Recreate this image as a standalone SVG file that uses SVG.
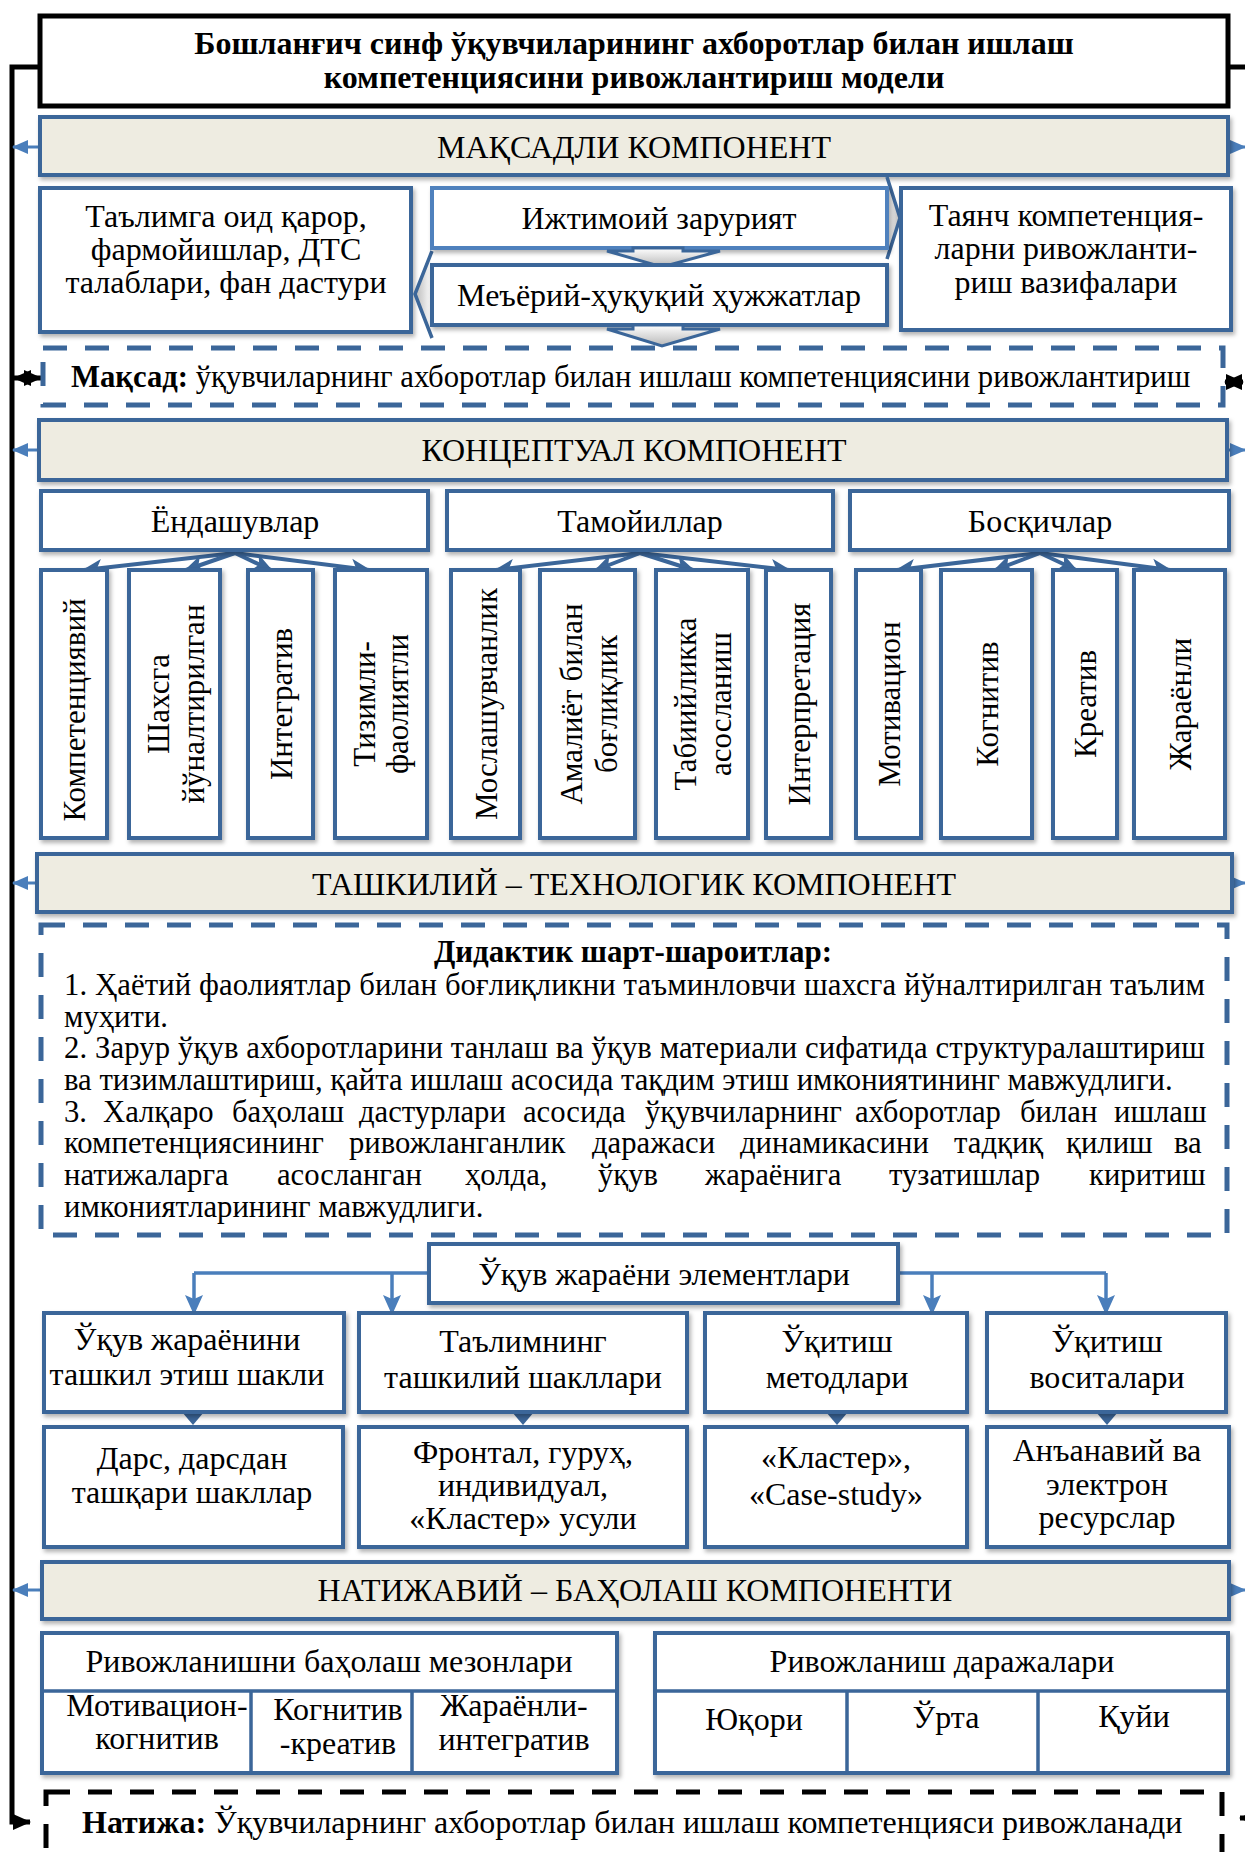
<svg xmlns="http://www.w3.org/2000/svg" width="1245" height="1852" viewBox="0 0 1245 1852">
<defs>
<style>
text{font-family:"Liberation Serif","Times New Roman",serif;font-size:32px;fill:#000}
.p{font-size:30.7px}
.h{font-size:31px}
.c{text-anchor:middle}
.b{font-weight:bold}
.box{fill:#fff;stroke:#3B6699;stroke-width:4}
.lbox{fill:#fff;stroke:#4F81BD;stroke-width:4}
.band{fill:#EEECE1;stroke:#3B6699;stroke-width:4}
.dash{fill:none;stroke:#3B6699;stroke-width:5;stroke-dasharray:24 18}
.kdash{fill:none;stroke:#000;stroke-width:5;stroke-dasharray:24 18}
.bl{fill:none;stroke:#000;stroke-width:5}
.ca{fill:none;stroke:#3B6699;stroke-width:4;marker-end:url(#ah)}
.la{fill:none;stroke:#4A7EBB;stroke-width:3.5}
.la2{fill:none;stroke:#4A7EBB;stroke-width:3.5;marker-end:url(#lh)}
.ba{fill:none;stroke:#4A7EBB;stroke-width:3;marker-end:url(#bh)}
.tri{fill:#3B6699}
.chev{fill:url(#gr);stroke:#3B6699;stroke-width:3}
.cl{fill:none;stroke:#3B6699;stroke-width:3.5}
</style>
<filter id="sh" x="-20%" y="-20%" width="140%" height="150%"><feDropShadow dx="2" dy="3" stdDeviation="2" flood-color="#000" flood-opacity="0.3"/></filter>
<linearGradient id="gr" x1="0" y1="0" x2="0" y2="1"><stop offset="0" stop-color="#ffffff"/><stop offset="1" stop-color="#b8b8b8"/></linearGradient>
<linearGradient id="grh" x1="1" y1="0" x2="0" y2="0"><stop offset="0" stop-color="#ffffff"/><stop offset="1" stop-color="#b8b8b8"/></linearGradient>
<linearGradient id="grr" x1="0" y1="0" x2="1" y2="0"><stop offset="0" stop-color="#ffffff"/><stop offset="1" stop-color="#b8b8b8"/></linearGradient>
<marker id="ah" markerUnits="userSpaceOnUse" viewBox="0 0 20 20" markerWidth="20" markerHeight="20" refX="18" refY="10" orient="auto"><path d="M0,1 L20,10 L0,19 L5,10 Z" fill="#3B6699"/></marker>
<marker id="lh" markerUnits="userSpaceOnUse" viewBox="0 0 20 20" markerWidth="20" markerHeight="20" refX="18" refY="10" orient="auto"><path d="M0,1 L20,10 L0,19 L4,10 Z" fill="#4A7EBB"/></marker>
<marker id="bh" markerUnits="userSpaceOnUse" viewBox="0 0 16 16" markerWidth="16" markerHeight="16" refX="15" refY="8" orient="auto"><path d="M0,1 L16,8 L0,15 Z" fill="#4A7EBB"/></marker>
<marker id="kh" markerUnits="userSpaceOnUse" viewBox="0 0 18 18" markerWidth="18" markerHeight="18" refX="17" refY="9" orient="auto-start-reverse"><path d="M0,1 L18,9 L0,17 Z" fill="#000"/></marker>
</defs>

<!-- connectors -->
<g id="connectors">
  <path class="bl" d="M40,67 H12 V1822 H30" marker-end="url(#kh)"/>
  <path class="bl" d="M1228,67 H1245"/>
  <path class="bl" d="M1245,1818 H1240" marker-end="url(#kh)"/>
  <path d="M14,378 H41" class="bl" stroke-width="4" marker-start="url(#kh)" marker-end="url(#kh)"/>
  <path d="M1225,382 H1243" class="bl" stroke-width="4" marker-start="url(#kh)" marker-end="url(#kh)"/>
  <path class="ba" d="M40,147 H13"/>
  <path class="ba" d="M1228,147 H1245"/>
  <path class="ba" d="M39,450 H13"/>
  <path class="ba" d="M1227,450 H1245"/>
  <path class="ba" d="M37,883 H13"/>
  <path class="ba" d="M1232,883 H1245"/>
  <path class="ba" d="M42,1590 H13"/>
  <path class="ba" d="M1229,1590 H1245"/>
  <!-- concept arrows -->
  <path class="ca" d="M235,553 L84,570"/>
  <path class="ca" d="M235,553 L186,570"/>
  <path class="ca" d="M235,553 L271,570"/>
  <path class="ca" d="M235,553 L369,570"/>
  <path class="ca" d="M640,553 L496,570"/>
  <path class="ca" d="M640,553 L596,570"/>
  <path class="ca" d="M640,553 L693,570"/>
  <path class="ca" d="M640,553 L789,570"/>
  <path class="ca" d="M1040,553 L897,570"/>
  <path class="ca" d="M1040,553 L995,570"/>
  <path class="ca" d="M1040,553 L1076,570"/>
  <path class="ca" d="M1040,553 L1170,570"/>
  <!-- process elements -->
  <path class="la" d="M429,1273 H194"/>
  <path class="la2" d="M194,1273 V1313"/>
  <path class="la2" d="M392,1273 V1313"/>
  <path class="la" d="M898,1273 H1106"/>
  <path class="la2" d="M1106,1273 V1313"/>
  <path class="la2" d="M932,1273 V1313"/>
  <polygon class="tri" points="182,1412 204,1412 193,1425"/>
  <polygon class="tri" points="512,1412 534,1412 523,1425"/>
  <polygon class="tri" points="826,1412 848,1412 837,1425"/>
  <polygon class="tri" points="1096,1412 1118,1412 1107,1425"/>
</g>

<g id="title">
  <rect x="40" y="16" width="1188" height="90" fill="#fff" stroke="#000" stroke-width="5"/>
  <text class="c b" x="634" y="54">Бошланғич синф ўқувчиларининг ахборотлар билан ишлаш</text>
  <text class="c b" x="634" y="88">компетенциясини ривожлантириш модели</text>
</g>

<g id="band-maqsadli">
  <rect class="band" x="40" y="117" width="1188" height="58" filter="url(#sh)"/>
  <text class="c" x="634" y="158">МАҚСАДЛИ КОМПОНЕНТ</text>
</g>

<g id="node-talimga">
  <rect class="box" x="40" y="188" width="371" height="144" filter="url(#sh)"/>
  <text class="c" x="226" y="227">Таълимга оид қарор,</text>
  <text class="c" x="226" y="260">фармойишлар, ДТС</text>
  <text class="c" x="226" y="293">талаблари, фан дастури</text>
</g>

<g id="arrows-center">
  <polygon points="432,251 415,294 432,338" fill="url(#grh)"/>
  <polyline class="cl" points="432,251 415,294 432,338"/>
  <polygon points="887,177 900,218 887,259" fill="url(#grr)"/>
  <polyline class="cl" points="887,177 900,218 887,259"/>
</g>

<g id="node-ijtimoiy">
  <rect class="lbox" x="432" y="188" width="455" height="60" filter="url(#sh)"/>
  <text class="c" x="659" y="229">Ижтимоий зарурият</text>
</g>
<polygon class="chev" points="633,248 683,248 683,251 720,251 662,267 607,251 633,251"/>

<g id="node-meyoriy">
  <rect class="box" x="432" y="265" width="455" height="60" filter="url(#sh)"/>
  <text class="c" x="659" y="306">Меъёрий-ҳуқуқий ҳужжатлар</text>
</g>
<polygon class="chev" points="633,325 683,325 683,329 720,329 662,346 607,329 633,329"/>

<g id="node-tayanch">
  <rect class="box" x="901" y="188" width="330" height="142" filter="url(#sh)"/>
  <text class="c" x="1066" y="226">Таянч компетенция-</text>
  <text class="c" x="1066" y="259">ларни ривожланти-</text>
  <text class="c" x="1066" y="293">риш вазифалари</text>
</g>

<g id="node-maqsad">
  <rect class="dash" x="43" y="348" width="1180" height="57"/>
  <text class="p" x="71" y="387"><tspan class="b">Мақсад:</tspan> ўқувчиларнинг ахборотлар билан ишлаш компетенциясини ривожлантириш</text>
</g>

<g id="band-konseptual">
  <rect class="band" x="39" y="420" width="1188" height="60" filter="url(#sh)"/>
  <text class="c" x="634" y="461">КОНЦЕПТУАЛ КОМПОНЕНТ</text>
</g>

<g id="node-yondashuvlar">
  <rect class="box" x="41" y="491" width="387" height="59" filter="url(#sh)"/>
  <text class="c" x="235" y="532">Ёндашувлар</text>
</g>
<g id="node-tamoyillar">
  <rect class="box" x="447" y="491" width="386" height="59" filter="url(#sh)"/>
  <text class="c" x="640" y="532">Тамойиллар</text>
</g>
<g id="node-bosqichlar">
  <rect class="box" x="850" y="491" width="379" height="59" filter="url(#sh)"/>
  <text class="c" x="1040" y="532">Босқичлар</text>
</g>

<g id="node-v1"><rect class="box" x="41" y="570" width="66" height="268" filter="url(#sh)"/>
  <text class="c h" transform="translate(74,710) rotate(-90)" y="11">Компетенциявий</text></g>
<g id="node-v2"><rect class="box" x="129" y="570" width="91" height="268" filter="url(#sh)"/>
  <text class="c h" transform="translate(174.5,704) rotate(-90)" y="-6">Шахсга</text>
  <text class="c h" transform="translate(174.5,704) rotate(-90)" y="29">йўналтирилган</text></g>
<g id="node-v3"><rect class="box" x="248" y="570" width="65" height="268" filter="url(#sh)"/>
  <text class="c h" transform="translate(280.5,704) rotate(-90)" y="11">Интегратив</text></g>
<g id="node-v4"><rect class="box" x="335" y="570" width="92" height="268" filter="url(#sh)"/>
  <text class="c h" transform="translate(381,704) rotate(-90)" y="-6">Тизимли-</text>
  <text class="c h" transform="translate(381,704) rotate(-90)" y="27">фаолиятли</text></g>
<g id="node-v5"><rect class="box" x="451" y="570" width="69" height="268" filter="url(#sh)"/>
  <text class="c h" transform="translate(485.5,704) rotate(-90)" y="11">Мослашувчанлик</text></g>
<g id="node-v6"><rect class="box" x="540" y="570" width="95" height="268" filter="url(#sh)"/>
  <text class="c h" transform="translate(587.5,704) rotate(-90)" y="-6">Амалиёт билан</text>
  <text class="c h" transform="translate(587.5,704) rotate(-90)" y="29">боғлиқлик</text></g>
<g id="node-v7"><rect class="box" x="656" y="570" width="92" height="268" filter="url(#sh)"/>
  <text class="c h" transform="translate(702,704) rotate(-90)" y="-6">Табиийликка</text>
  <text class="c h" transform="translate(702,704) rotate(-90)" y="29">асосланиш</text></g>
<g id="node-v8"><rect class="box" x="766" y="570" width="65" height="268" filter="url(#sh)"/>
  <text class="c h" transform="translate(798.5,704) rotate(-90)" y="11">Интерпретация</text></g>
<g id="node-v9"><rect class="box" x="856" y="570" width="65" height="268" filter="url(#sh)"/>
  <text class="c h" transform="translate(888.5,704) rotate(-90)" y="11">Мотивацион</text></g>
<g id="node-v10"><rect class="box" x="941" y="570" width="91" height="268" filter="url(#sh)"/>
  <text class="c h" transform="translate(986.5,704) rotate(-90)" y="11">Когнитив</text></g>
<g id="node-v11"><rect class="box" x="1053" y="570" width="64" height="268" filter="url(#sh)"/>
  <text class="c h" transform="translate(1085,704) rotate(-90)" y="11">Креатив</text></g>
<g id="node-v12"><rect class="box" x="1134" y="570" width="91" height="268" filter="url(#sh)"/>
  <text class="c h" transform="translate(1179.5,704) rotate(-90)" y="11">Жараёнли</text></g>

<g id="band-tashkiliy">
  <rect class="band" x="37" y="854" width="1195" height="58" filter="url(#sh)"/>
  <text class="c" x="634" y="895">ТАШКИЛИЙ – ТЕХНОЛОГИК КОМПОНЕНТ</text>
</g>

<g id="node-didaktik">
  <rect class="dash" x="41" y="925" width="1186" height="310"/>
  <text class="c b h" x="633" y="962">Дидактик шарт-шароитлар:</text>
  <text class="p" x="64" y="995" textLength="1141" lengthAdjust="spacing">1. Ҳаётий фаолиятлар билан боғлиқликни таъминловчи шахсга йўналтирилган таълим</text>
  <text class="p" x="64" y="1027">муҳити.</text>
  <text class="p" x="64" y="1058" textLength="1141" lengthAdjust="spacing">2. Зарур ўқув ахборотларини танлаш ва ўқув материали сифатида структуралаштириш</text>
  <text class="p" x="64" y="1090">ва тизимлаштириш, қайта ишлаш асосида тақдим этиш имкониятининг мавжудлиги.</text>
  <text class="p" y="1122"><tspan x="64">3.</tspan><tspan x="103">Халқаро</tspan><tspan x="232">баҳолаш</tspan><tspan x="359">дастурлари</tspan><tspan x="523">асосида</tspan><tspan x="645">ўқувчиларнинг</tspan><tspan x="855">ахборотлар</tspan><tspan x="1020">билан</tspan><tspan x="1114">ишлаш</tspan></text>
  <text class="p" y="1153"><tspan x="64">компетенциясининг</tspan><tspan x="349">ривожланганлик</tspan><tspan x="592">даражаси</tspan><tspan x="740">динамикасини</tspan><tspan x="954">тадқиқ</tspan><tspan x="1066">қилиш</tspan><tspan x="1174">ва</tspan></text>
  <text class="p" y="1185"><tspan x="64">натижаларга</tspan><tspan x="277">асосланган</tspan><tspan x="465">ҳолда,</tspan><tspan x="598">ўқув</tspan><tspan x="705">жараёнига</tspan><tspan x="889">тузатишлар</tspan><tspan x="1089">киритиш</tspan></text>
  <text class="p" x="64" y="1217">имкониятларининг мавжудлиги.</text>
</g>

<g id="node-elementlar">
  <rect class="box" x="429" y="1244" width="469" height="59" filter="url(#sh)"/>
  <text class="c" x="664" y="1285">Ўқув жараёни элементлари</text>
</g>

<g id="node-a1"><rect class="box" x="44" y="1313" width="300" height="99" filter="url(#sh)"/>
  <text class="c" x="187" y="1350">Ўқув жараёнини</text>
  <text class="c" x="187" y="1385">ташкил этиш шакли</text></g>
<g id="node-b1"><rect class="box" x="359" y="1313" width="328" height="99" filter="url(#sh)"/>
  <text class="c" x="523" y="1352">Таълимнинг</text>
  <text class="c" x="523" y="1388">ташкилий шакллари</text></g>
<g id="node-c1"><rect class="box" x="705" y="1313" width="262" height="99" filter="url(#sh)"/>
  <text class="c" x="837" y="1352">Ўқитиш</text>
  <text class="c" x="837" y="1388">методлари</text></g>
<g id="node-d1"><rect class="box" x="987" y="1313" width="239" height="99" filter="url(#sh)"/>
  <text class="c" x="1107" y="1352">Ўқитиш</text>
  <text class="c" x="1107" y="1388">воситалари</text></g>

<g id="node-a2"><rect class="box" x="44" y="1427" width="299" height="120" filter="url(#sh)"/>
  <text class="c" x="192" y="1469">Дарс, дарсдан</text>
  <text class="c" x="192" y="1503">ташқари шакллар</text></g>
<g id="node-b2"><rect class="box" x="359" y="1427" width="328" height="120" filter="url(#sh)"/>
  <text class="c" x="523" y="1463">Фронтал, гуруҳ,</text>
  <text class="c" x="523" y="1496">индивидуал,</text>
  <text class="c" x="523" y="1529">«Кластер» усули</text></g>
<g id="node-c2"><rect class="box" x="705" y="1427" width="262" height="120" filter="url(#sh)"/>
  <text class="c" x="836" y="1468">«Кластер»,</text>
  <text class="c" x="836" y="1505">«Case-study»</text></g>
<g id="node-d2"><rect class="box" x="987" y="1427" width="242" height="120" filter="url(#sh)"/>
  <text class="c" x="1107" y="1461">Анъанавий ва</text>
  <text class="c" x="1107" y="1495">электрон</text>
  <text class="c" x="1107" y="1528">ресурслар</text></g>

<g id="band-natijaviy">
  <rect class="band" x="42" y="1562" width="1187" height="57" filter="url(#sh)"/>
  <text class="c" x="635" y="1601">НАТИЖАВИЙ – БАҲОЛАШ КОМПОНЕНТИ</text>
</g>

<g id="node-mezonlar">
  <rect class="box" x="42" y="1633" width="575" height="140" filter="url(#sh)"/>
  <path class="cl" stroke-width="4" d="M42,1691 H617 M251,1691 V1773 M412,1691 V1773"/>
  <text class="c" x="329" y="1672">Ривожланишни баҳолаш мезонлари</text>
  <text class="c" x="157" y="1716">Мотивацион-</text>
  <text class="c" x="157" y="1749">когнитив</text>
  <text class="c" x="338" y="1720">Когнитив</text>
  <text class="c" x="338" y="1754">-креатив</text>
  <text class="c" x="514" y="1716">Жараёнли-</text>
  <text class="c" x="514" y="1750">интегратив</text>
</g>

<g id="node-darajalar">
  <rect class="box" x="655" y="1633" width="573" height="140" filter="url(#sh)"/>
  <path class="cl" stroke-width="4" d="M655,1691 H1228 M847,1691 V1773 M1038,1691 V1773"/>
  <text class="c" x="942" y="1672">Ривожланиш даражалари</text>
  <text class="c" x="754" y="1730">Юқори</text>
  <text class="c" x="946" y="1728">Ўрта</text>
  <text class="c" x="1134" y="1727">Қуйи</text>
</g>

<g id="node-natija">
  <rect class="kdash" x="46" y="1792" width="1176" height="70"/>
  <text x="82" y="1833"><tspan class="b">Натижа:</tspan> Ўқувчиларнинг ахборотлар билан ишлаш компетенцияси ривожланади</text>
</g>
</svg>
